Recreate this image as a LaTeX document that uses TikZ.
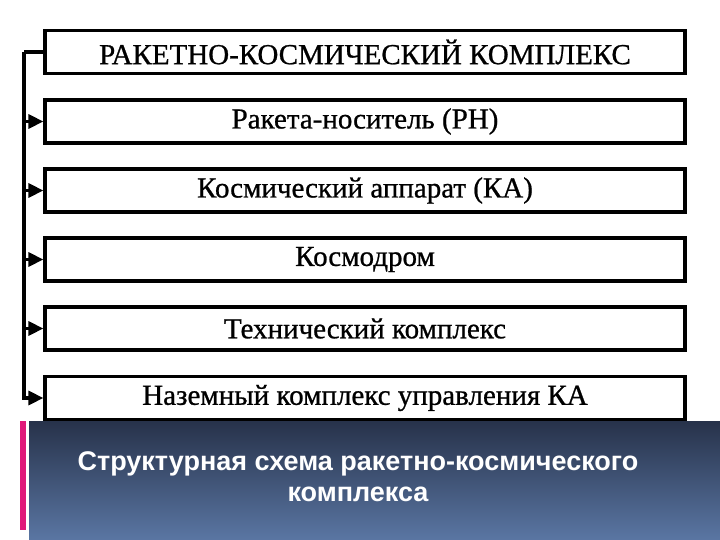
\documentclass[tikz,border=0pt]{standalone}
\usepackage{fontspec}
\setmainfont{Liberation Serif}
\newfontfamily\partfont[FakeBold=0.8]{Liberation Serif}
\newfontfamily\bannerfont{Liberation Sans}
\usetikzlibrary{arrows.meta}

\definecolor{bannertop}{HTML}{27324A}
\definecolor{bannerbot}{HTML}{5A76A3}
\definecolor{accent}{HTML}{E0197A}

\tikzset{
  part/.style={draw, line width=3.2pt, minimum width=640pt, minimum height=43pt,
    inner sep=0pt, font=\partfont\fontsize{29}{32}\selectfont},
  feed/.style={line width=3.2pt, -{Triangle[length=15pt,width=14pt]}},
}

\begin{document}
\begin{tikzpicture}[x=1pt,y=-1pt]
    \useasboundingbox (0,0) rectangle (720,540);

    % Boxes
    \node[part] (rkk) at (365,52) {РАКЕТНО-КОСМИЧЕСКИЙ КОМПЛЕКС};
    \node[part] (rn)  at (365,121.5) {Ракета-носитель (РН)};
    \node[part] (ka)  at (365,190.5) {Космический аппарат (КА)};
    \node[part] (kd)  at (365,259.5) {Космодром};
    \node[part] (tk)  at (365,328.5) {Технический комплекс};
    \node[part] (nku) at (365,398) {Наземный комплекс управления КА};

    % Bus
    \coordinate (bus) at (24,52);
    \draw[line width=3.2pt] (rkk.west) -- (bus);
    \foreach \n in {rn,ka,kd,tk,nku}
        \draw[feed] (bus) |- (\n.west);

    % Caption
    \shade[top color=bannertop, bottom color=bannerbot] (29,421) rectangle (720,540);
    \fill[accent] (20,421) rectangle (26,530);
    \node[text=white, align=center, font=\bannerfont\bfseries\fontsize{27}{31}\selectfont]
        (caption) at (358,477) {Структурная схема ракетно-космического\\комплекса};
\end{tikzpicture}
\end{document}
